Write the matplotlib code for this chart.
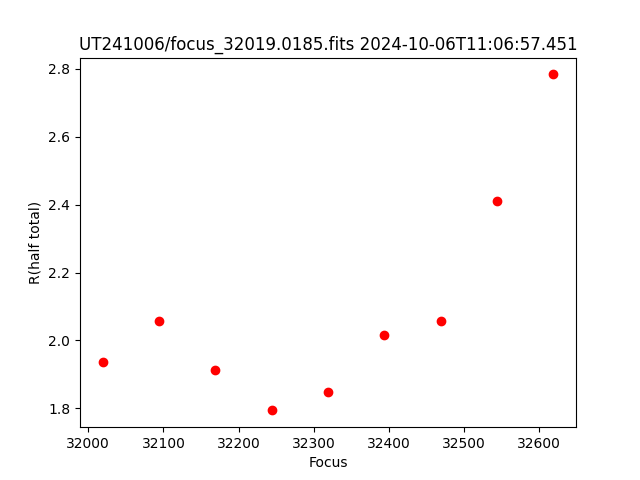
import matplotlib
matplotlib.use("Agg")
import matplotlib.pyplot as plt

# Focus positions and measured half-total radius
focus = [32019, 32094, 32169, 32244, 32319, 32394, 32469, 32544, 32619]
r_half = [1.938, 2.056, 1.912, 1.794, 1.847, 2.015, 2.056, 2.410, 2.784]

fig = plt.figure(figsize=(6.4, 4.8), dpi=100)
plt.plot(focus, r_half, "ro")
plt.title("UT241006/focus_32019.0185.fits 2024-10-06T11:06:57.451")
plt.xlabel("Focus")
plt.ylabel("R(half total)")
plt.savefig("out.png")
